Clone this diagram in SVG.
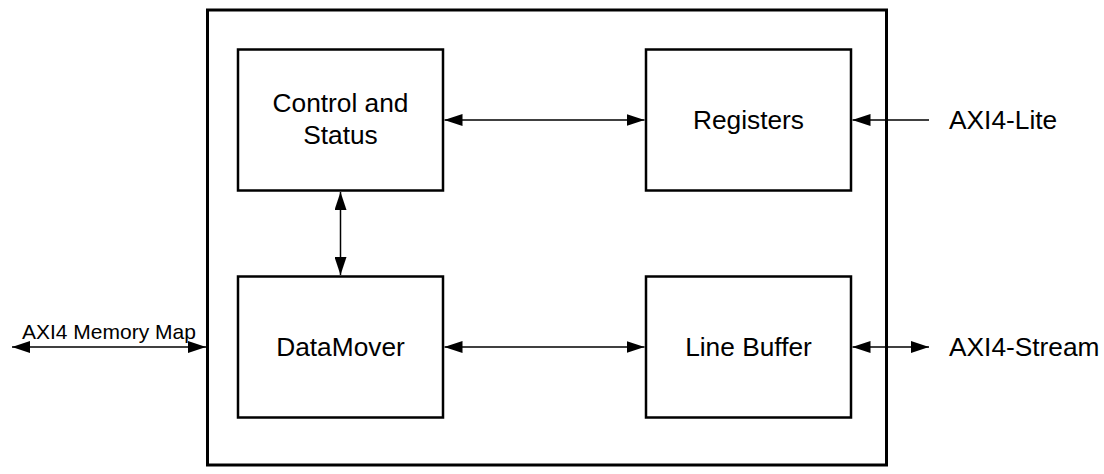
<svg xmlns="http://www.w3.org/2000/svg" width="1104" height="474" viewBox="0 0 1104 474">
<style>
.box{fill:#fff;stroke:#000;stroke-width:2.5}
.t{font-family:"Liberation Sans",Arial,sans-serif;font-size:26.3px;fill:#000}
.c{text-anchor:middle}
.ln{stroke:#000;stroke-width:1.5;fill:none}
</style>
<defs>
<marker id="ah" markerWidth="18" markerHeight="12" refX="18" refY="6" orient="auto-start-reverse" markerUnits="userSpaceOnUse">
<path d="M0,0 L18,6 L0,12 Z" fill="#000"/>
</marker>
</defs>
<rect x="0" y="0" width="1104" height="474" fill="#fff"/>
<g id="outer"><rect class="box" x="207.5" y="10" width="679" height="455" style="stroke-width:3"/></g>
<g id="control"><rect class="box" x="238" y="49.5" width="205" height="141"/><text class="t c" x="340.5" y="112">Control and</text><text class="t c" x="340.5" y="144">Status</text></g>
<g id="registers"><rect class="box" x="646" y="49.5" width="205" height="141"/><text class="t c" x="748.5" y="129">Registers</text></g>
<g id="datamover"><rect class="box" x="238" y="276.5" width="205" height="141"/><text class="t c" x="340.5" y="356">DataMover</text></g>
<g id="linebuffer"><rect class="box" x="646" y="276.5" width="205" height="141"/><text class="t c" x="748.5" y="356">Line Buffer</text></g>
<g id="labels">
<text class="t" x="949" y="129">AXI4-Lite</text>
<text class="t" x="949" y="356">AXI4-Stream</text>
<text class="t" x="22" y="339" style="font-size:21px">AXI4 Memory Map</text>
</g>
<g id="connectors">
<line class="ln" x1="444.5" y1="120" x2="644.5" y2="120" marker-start="url(#ah)" marker-end="url(#ah)"/>
<line class="ln" x1="340.5" y1="192" x2="340.5" y2="275" marker-start="url(#ah)" marker-end="url(#ah)"/>
<line class="ln" x1="444.5" y1="347" x2="644.5" y2="347" marker-start="url(#ah)" marker-end="url(#ah)"/>
<line class="ln" x1="929" y1="120" x2="852.5" y2="120" marker-end="url(#ah)"/>
<line class="ln" x1="852.5" y1="347" x2="929" y2="347" marker-start="url(#ah)" marker-end="url(#ah)"/>
<line class="ln" x1="12" y1="347" x2="206" y2="347" marker-start="url(#ah)" marker-end="url(#ah)"/>
</g>
</svg>
